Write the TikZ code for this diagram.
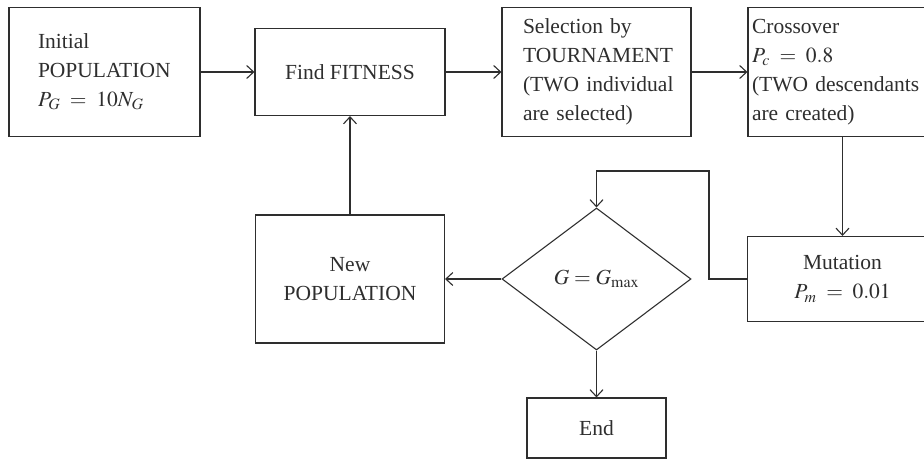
\documentclass[tikz,border=0pt]{standalone}
\usepackage{mathptmx}
\usepackage{fontspec}
\setmainfont{Liberation Serif}
\usetikzlibrary{arrows.meta,shapes.geometric}
\definecolor{ink}{HTML}{2E2E2E}
\newcommand\lin[1]{\mbox{#1}}
\begin{document}
\begin{tikzpicture}[x=1pt,y=-1pt,
 every node/.style={font=\fontsize{21.5}{29}\selectfont, text=ink},
 box/.style={draw=ink, line width=1.1pt, rectangle, inner ysep=0pt},
 lbox/.style={box, align=left},
 cbox/.style={box, align=center},
 dec/.style={draw=ink, line width=1.1pt, diamond, aspect=1.33, inner sep=0pt, minimum width=189pt, minimum height=142pt},
 conn/.style={draw=ink, line width=1.1pt},
 arr/.style={conn, -{Straight Barb[length=7pt,width=13pt]}}
]
\useasboundingbox (0,0) rectangle (924,459);
\node[lbox, text width=133pt, inner xsep=29pt, minimum height=129pt] (init) at (104.5,72) {\lin{Initial}\\\lin{POPULATION}\\\lin{$P_G \;=\; 10N_G$}};
\node[cbox, minimum width=190pt, minimum height=87pt] (fit) at (350,72) {Find FITNESS};
\node[lbox, text width=147pt, inner xsep=21pt, minimum height=129pt] (sel) at (596.5,72) {\lin{Selection by}\\\lin{TOURNAMENT}\\\lin{(TWO individual}\\\lin{are selected)}};
\node[lbox, text width=181pt, inner xsep=4pt, minimum height=129pt] (cross) at (842.5,72) {\lin{Crossover}\\\lin{$P_c \;=\; 0.8$}\\\lin{(TWO descendants}\\\lin{are created)}};
\node[cbox, minimum width=190pt, minimum height=85pt] (mut) at (842.5,279) {Mutation\\$P_m \;=\; 0.01$};
\node[dec] (dec) at (596.5,279) {$G = G_{\max}$};
\node[cbox, minimum width=189pt, minimum height=128pt] (newp) at (350,279) {New\\POPULATION};
\node[cbox, minimum width=139pt, minimum height=60pt] (end) at (596.5,428) {End};
\coordinate (k1) at (709,279);
\coordinate (k2) at (709,171);
\draw[arr] (init) -- (fit);
\draw[arr] (fit) -- (sel);
\draw[arr] (sel) -- (cross);
\draw[arr] (cross) -- (mut);
\draw[arr] (newp) -- (fit);
\draw[arr] (dec) -- (newp);
\draw[arr] (dec) -- (end);
\draw[arr] (mut.west) -- (k1) -- (k2) -- (k2 -| dec.north) -- (dec.north);
\end{tikzpicture}
\end{document}
